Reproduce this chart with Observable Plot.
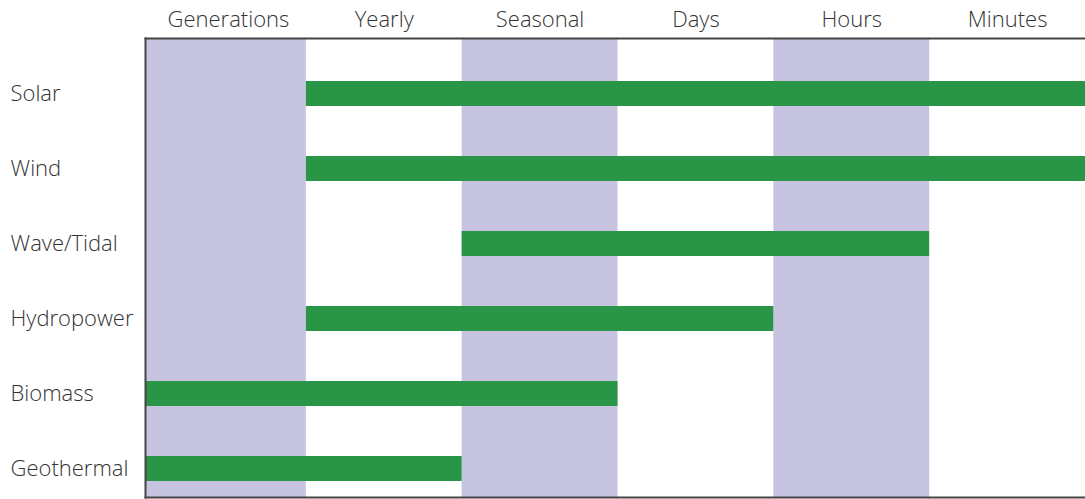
<!DOCTYPE html>
<html>
<head>
<meta charset="utf-8">
<script src="https://cdn.jsdelivr.net/npm/d3@7"></script>
<script src="https://cdn.jsdelivr.net/npm/@observablehq/plot@0.6"></script>
<style>
  html, body { margin: 0; padding: 0; background: #fff; }
  #chart svg { display: block; }
</style>
</head>
<body>
<div id="chart"></div>
<script>
// Time-scale columns (left to right)
const columns = ["Generations", "Yearly", "Seasonal", "Days", "Hours", "Minutes"];
// Which columns are shaded (index into columns)
const shadedColumns = [0, 2, 4];
// Energy sources (top to bottom)
const sources = ["Solar", "Wind", "Wave/Tidal", "Hydropower", "Biomass", "Geothermal"];
// Span of each source: start column index and end column index (exclusive)
const spanStart = [1, 1, 2, 1, 0, 0];
const spanEnd   = [6, 6, 5, 4, 3, 2];

const bars = sources.map((s, i) => ({source: s, start: spanStart[i], end: spanEnd[i]}));

const font = "'Open Sans', 'Noto Sans', sans-serif";
const shade = "#c7c4e2";
const green = "#289646";
const ink = "#333";
// the first (Generations) column is drawn a little wider, reaching the left border
const firstColExtra = -4;

const chart = Plot.plot({
  width: 1085,
  height: 499,
  marginLeft: 145,
  marginRight: 0,
  marginTop: 38,
  marginBottom: 2,
  style: {fontFamily: font, background: "#fff"},
  x: {domain: [0, columns.length], range: [150, 1085], axis: null},
  y: {type: "band", domain: sources, range: [78.5, 482.5], paddingInner: 0.67, paddingOuter: 0, axis: null},
  marks: [
    Plot.rect(shadedColumns.filter(d => d === 0), {x1: d => d, x2: d => d + 1, fill: shade, insetLeft: firstColExtra}),
    Plot.rect(shadedColumns.filter(d => d !== 0), {x1: d => d, x2: d => d + 1, fill: shade}),
    Plot.barX(bars.filter(d => d.start === 0), {y: "source", x1: "start", x2: "end", fill: green, insetLeft: firstColExtra}),
    Plot.barX(bars.filter(d => d.start !== 0), {y: "source", x1: "start", x2: "end", fill: green}),
    Plot.text(columns, {x: (d, i) => i + 0.5, frameAnchor: "top", lineAnchor: "middle", dy: -19, text: d => d,
      fontSize: 22, fontWeight: 300, fill: ink, fontFamily: font}),
    Plot.text(sources, {y: d => d, frameAnchor: "left", dx: -135, textAnchor: "start", text: d => d,
      fontSize: 22, fontWeight: 300, fill: ink, fontFamily: font}),
    Plot.frame({anchor: "top", stroke: "#444", strokeWidth: 2}),
    Plot.frame({anchor: "left", stroke: "#444", strokeWidth: 2}),
    Plot.frame({anchor: "bottom", stroke: "#444", strokeWidth: 2})
  ]
});
document.getElementById("chart").appendChild(chart);
</script>
</body>
</html>
